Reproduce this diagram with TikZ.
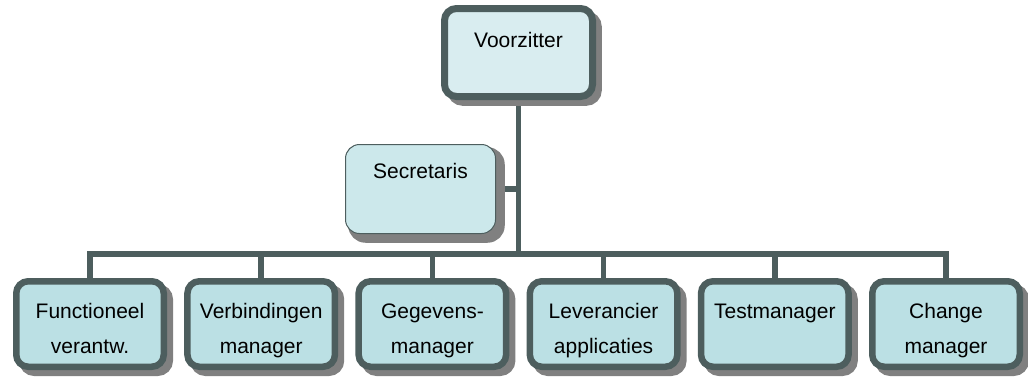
\documentclass[tikz,border=0pt]{standalone}
\usepackage{fontspec}
\setmainfont{Liberation Sans}
\usetikzlibrary{shadows, backgrounds}

\definecolor{rand}{RGB}{77,94,94}
\definecolor{vzkleur}{RGB}{217,237,240}
\definecolor{seckleur}{RGB}{204,232,235}
\definecolor{vakkleur}{RGB}{187,224,228}
\definecolor{schaduw}{RGB}{128,128,128}

\tikzset{
	vak/.style = {rectangle, rounded corners=12pt, draw=rand, line width=6.5pt,
		fill=vakkleur, align=center, inner sep=0pt, anchor=base,
		minimum width=147.5pt, text height=71.75pt, text depth=13.75pt,
		font=\fontsize{21}{35}\selectfont,
		general shadow={fill=schaduw, draw=schaduw, line width=6.5pt,
			shadow xshift=6pt, shadow yshift=-6pt}},
	lijn/.style = {draw=rand, line width=5.5pt}
}

\begin{document}
\begin{tikzpicture}[x=1pt, y=-1pt]
	%\draw [thin, help lines, step=10] (0,0) grid (1028,376);
	\useasboundingbox (0,0) rectangle (1028,376);
	\node[vak, fill=vzkleur, line width=7pt, minimum width=148pt,
		text height=38.5pt, text depth=49.5pt] (vz) at (518.5,47) {Voorzitter};
	\node[vak, fill=seckleur, line width=1pt, rounded corners=14pt,
		minimum width=150pt, text height=33.5pt, text depth=55.5pt,
		general shadow={fill=schaduw, shadow xshift=7pt, shadow yshift=-7pt}]
		(sec) at (420.5,178) {Secretaris};
	\node[vak] (fv) at (90,353) {Functioneel\\verantw.};
	\node[vak] (vm) at (261.2,353) {Verbindingen\\manager};
	\node[vak] (gm) at (432.4,353) {Gegevens-\\manager};
	\node[vak] (la) at (603.6,353) {Leverancier\\applicaties};
	\node[vak, text height=36.75pt, text depth=48.75pt] (tm) at (774.8,318) {Testmanager};
	\node[vak] (cm) at (946,353) {Change\\manager};
	\coordinate (bus) at (518.5,254);
	\begin{scope}[on background layer]
		\draw[lijn] (vz) -- (bus);
		\draw[lijn] (sec) -- (sec -| bus);
		\draw[lijn] (fv) |- (bus) -| (cm);
		\draw[lijn] (vm) -- (vm |- bus);
		\draw[lijn] (gm) -- (gm |- bus);
		\draw[lijn] (la) -- (la |- bus);
		\draw[lijn] (tm) -- (tm |- bus);
	\end{scope}
\end{tikzpicture}
\end{document}
